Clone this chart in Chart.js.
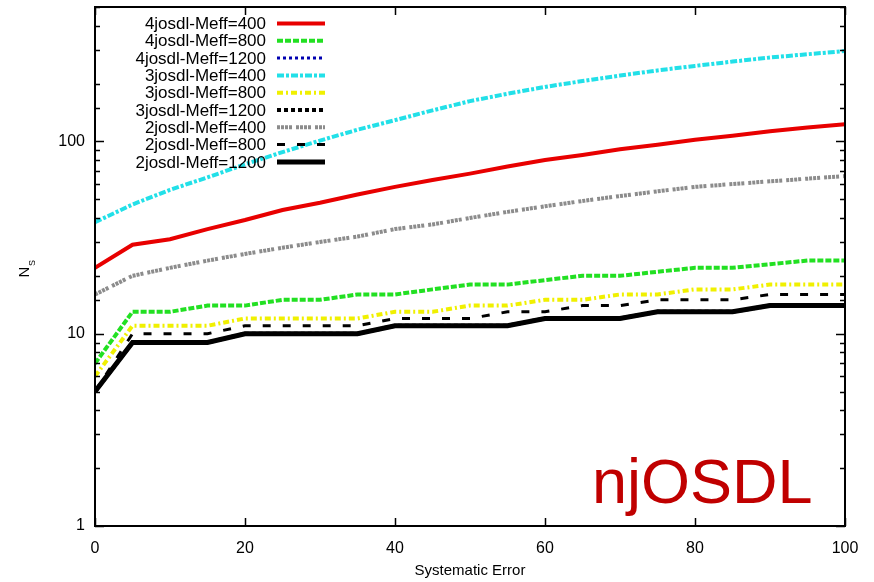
<!DOCTYPE html>
<html>
<head>
<meta charset="utf-8">
<script src="https://cdn.jsdelivr.net/npm/chart.js@4"></script>
<style>
  body { margin: 0; background: #fff; }
  canvas { display: block; }
</style>
</head>
<body>
<canvas id="grafico" width="874" height="582"></canvas>
<script>
// Systematic error (x) values
const errores = [0, 5, 10, 15, 20, 25, 30, 35, 40, 45, 50, 55, 60, 65, 70, 75, 80, 85, 90, 95, 100];

// N_S, one array per curve
const j4_400  = [22, 29, 31, 35, 39, 44, 48, 53, 58, 63, 68, 74, 80, 85, 91, 96, 102, 107, 113, 118, 123];
const j4_800  = [7, 13, 13, 14, 14, 15, 15, 16, 16, 17, 18, 18, 19, 20, 20, 21, 22, 22, 23, 24, 24];
const j4_1200 = [5, 9, 9, 9, 10, 10, 10, 10, 11, 11, 11, 11, 12, 12, 12, 13, 13, 13, 14, 14, 14];
const j3_400  = [38, 47, 56, 65, 76, 88, 101, 115, 129, 145, 162, 177, 192, 206, 220, 234, 247, 260, 273, 284, 295];
const j3_800  = [6, 11, 11, 11, 12, 12, 12, 12, 13, 13, 14, 14, 15, 15, 16, 16, 17, 17, 18, 18, 18];
const j3_1200 = [5, 9, 9, 9, 10, 10, 10, 10, 11, 11, 11, 11, 12, 12, 12, 13, 13, 13, 14, 14, 14];
const j2_400  = [16, 20, 22, 24, 26, 28, 30, 32, 35, 37, 40, 43, 46, 49, 52, 55, 58, 60, 62, 64, 66];
const j2_800  = [5, 10, 10, 10, 11, 11, 11, 11, 12, 12, 12, 13, 13, 14, 14, 15, 15, 15, 16, 16, 16];
const j2_1200 = [5, 9, 9, 9, 10, 10, 10, 10, 11, 11, 11, 11, 12, 12, 12, 13, 13, 13, 14, 14, 14];

const etiquetasY = [1, 10, 100];

const FUENTE = '"Liberation Sans", Arial, sans-serif';

function serie(label, valores, color, ancho, dash, orden) {
    return {
        label: label,
        data: errores.map((x, i) => ({ x: x, y: valores[i] })),
        borderColor: color,
        backgroundColor: color,
        borderWidth: ancho,
        borderDash: dash,
        borderCapStyle: 'butt',
        pointRadius: 0,
        tension: 0,
        order: orden
    };
}

// gnuplot-like frame, inward ticks, legend and labels
const marcoPlugin = {
    id: 'marco',
    afterDatasetsDraw(chart) {
        const ctx = chart.ctx;
        const a = chart.chartArea;
        const xs = chart.scales.x;
        const ys = chart.scales.y;
        ctx.save();
        ctx.strokeStyle = '#000';
        ctx.lineWidth = 1.5;
        ctx.beginPath();
        xs.ticks.forEach(t => {
            const px = Math.round(xs.getPixelForValue(t.value)) + 0.5;
            ctx.moveTo(px, a.bottom); ctx.lineTo(px, a.bottom - 8);
            ctx.moveTo(px, a.top); ctx.lineTo(px, a.top + 8);
        });
        ys.ticks.forEach(t => {
            const py = Math.round(ys.getPixelForValue(t.value)) + 0.5;
            const mayor = Math.abs(Math.log10(t.value) % 1) < 1e-9;
            const l = mayor ? 9 : 5;
            ctx.moveTo(a.left, py); ctx.lineTo(a.left + l, py);
            ctx.moveTo(a.right, py); ctx.lineTo(a.right - l, py);
        });
        ctx.stroke();
        ctx.lineWidth = 2;
        ctx.strokeRect(a.left, a.top, a.right - a.left, a.bottom - a.top);

        // legend
        ctx.font = '17px ' + FUENTE;
        ctx.textAlign = 'right';
        ctx.textBaseline = 'middle';
        chart.data.datasets.forEach((ds, i) => {
            const y = 23.5 + i * 17.3;
            ctx.fillStyle = '#000';
            ctx.fillText(ds.label, 266, y + 1);
            ctx.beginPath();
            ctx.strokeStyle = ds.borderColor;
            ctx.lineWidth = ds.borderWidth;
            ctx.setLineDash(ds.borderDash);
            ctx.moveTo(277, y); ctx.lineTo(325, y);
            ctx.stroke();
        });
        ctx.setLineDash([]);

        // axis titles
        ctx.fillStyle = '#000';
        ctx.textAlign = 'center';
        ctx.font = '15px ' + FUENTE;
        ctx.fillText('Systematic Error', (a.left + a.right) / 2, 571);
        ctx.save();
        ctx.translate(25, 272);
        ctx.rotate(-Math.PI / 2);
        ctx.font = '15px ' + FUENTE;
        ctx.fillText('N', 0, 0);
        ctx.font = '9px ' + FUENTE;
        ctx.fillText('S', 9, 8);
        ctx.restore();

        // watermark
        ctx.fillStyle = '#c00000';
        ctx.textAlign = 'left';
        ctx.textBaseline = 'alphabetic';
        ctx.font = '63px ' + FUENTE;
        ctx.fillText('njOSDL', 592, 503);
        ctx.restore();
    }
};

document.addEventListener("DOMContentLoaded", function() {
    const ctx = document.getElementById('grafico').getContext('2d');
    new Chart(ctx, {
        type: 'line',
        data: {
            datasets: [
                serie('4josdl-Meff=400', j4_400, '#e80000', 4, [], 2),
                serie('4josdl-Meff=800', j4_800, '#22e022', 4, [6, 2], 2),
                serie('4josdl-Meff=1200', j4_1200, '#0000b0', 3, [3, 3], 5),
                serie('3josdl-Meff=400', j3_400, '#22e0e8', 4, [7, 2, 3, 2], 2),
                serie('3josdl-Meff=800', j3_800, '#f0f000', 4, [6, 3, 2, 3], 2),
                serie('3josdl-Meff=1200', j3_1200, '#000000', 4, [4, 3], 5),
                serie('2josdl-Meff=400', j2_400, '#8c8c8c', 4, [3, 1, 3, 1, 3, 1, 3, 4], 2),
                serie('2josdl-Meff=800', j2_800, '#000000', 3, [8, 12], 1),
                serie('2josdl-Meff=1200', j2_1200, '#000000', 5, [], 0)
            ]
        },
        options: {
            responsive: false,
            devicePixelRatio: 1,
            animation: false,
            layout: { padding: { left: 0, top: 7, right: 29, bottom: 0 } },
            plugins: {
                legend: { display: false },
                tooltip: { enabled: false }
            },
            scales: {
                x: {
                    type: 'linear',
                    min: 0,
                    max: 100,
                    grid: { display: false, drawTicks: false },
                    border: { display: false },
                    ticks: {
                        stepSize: 20,
                        padding: 13,
                        color: '#000',
                        font: { family: FUENTE, size: 16 },
                        maxRotation: 0
                    },
                    afterFit: s => { s.height = 56; s.paddingLeft = 0; s.paddingRight = 0; }
                },
                y: {
                    type: 'logarithmic',
                    min: 1,
                    max: 500,
                    grid: { display: false, drawTicks: false },
                    border: { display: false },
                    ticks: {
                        autoSkip: false,
                        padding: 10,
                        color: '#000',
                        font: { family: FUENTE, size: 16 },
                        callback: v => etiquetasY.includes(v) ? String(v) : ''
                    },
                    afterFit: s => { s.width = 95; s.paddingTop = 0; s.paddingBottom = 0; }
                }
            }
        },
        plugins: [marcoPlugin]
    });
});
</script>
</body>
</html>
